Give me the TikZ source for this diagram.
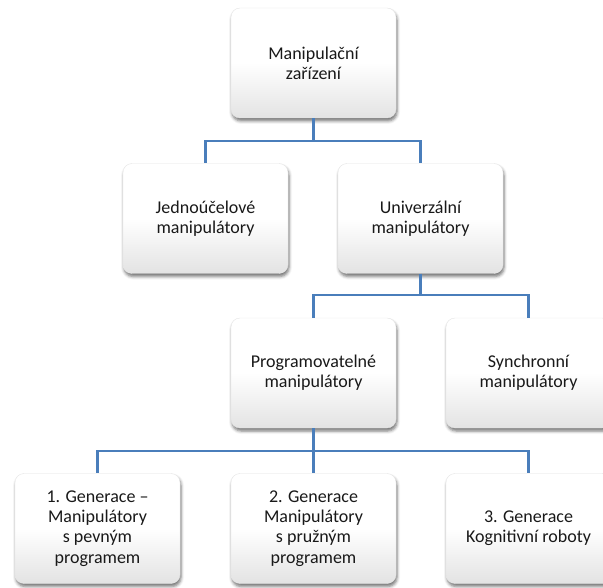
\documentclass[tikz,border=0pt]{standalone}
\usepackage{fontspec}
\setmainfont{Carlito}
\usetikzlibrary{shadows.blur}
\definecolor{linkblue}{RGB}{74,126,187}
\definecolor{txt}{RGB}{25,25,25}
\begin{document}
\begin{tikzpicture}[x=1pt,y=-1pt,
  orgbox/.style={rounded corners=9pt, minimum width=165pt, minimum height=110pt,
    top color=white, bottom color=black!11, middle color=white,
    draw=black!10, line width=0.4pt,
    blur shadow={shadow xshift=1pt, shadow yshift=-3pt, shadow blur radius=3pt, shadow opacity=55},
    align=center, text=txt, font=\fontsize{18}{20.3}\selectfont, inner sep=4pt},
  link/.style={draw=linkblue, line width=2.4pt}]
\clip (0,0) rectangle (603,588);
\useasboundingbox (0,0) rectangle (603,588);
% boxes
\node[orgbox] (top) at (313.5,63) {Manipulační\\zařízení};
\node[orgbox] (jed) at (205.5,218.5) {Jednoúčelové\\manipulátory};
\node[orgbox] (uni) at (420.5,218.5) {Univerzální\\manipulátory};
\node[orgbox] (pro) at (313.5,373) {Programovatelné\\manipulátory};
\node[orgbox] (syn) at (528.5,373) {Synchronní\\manipulátory};
\node[orgbox] (g1) at (97.5,528.5) {1. Generace –\\Manipulátory\\s pevným\\programem};
\node[orgbox] (g2) at (313.5,528.5) {2. Generace\\Manipulátory\\s pružným\\programem};
\node[orgbox] (g3) at (528.5,528.5) {3. Generace\\Kognitivní roboty};
% branch points
\coordinate (b1) at (313.5,141);
\coordinate (b2) at (420.5,295);
\coordinate (b3) at (313.5,451);
% connectors
\draw[link] (top.south) -- (b1) -| (jed.north);
\draw[link] (b1) -| (uni.north);
\draw[link] (uni.south) -- (b2) -| (pro.north);
\draw[link] (b2) -| (syn.north);
\draw[link] (pro.south) -- (b3) -| (g1.north);
\draw[link] (b3) -- (g2.north);
\draw[link] (b3) -| (g3.north);
\end{tikzpicture}
\end{document}
